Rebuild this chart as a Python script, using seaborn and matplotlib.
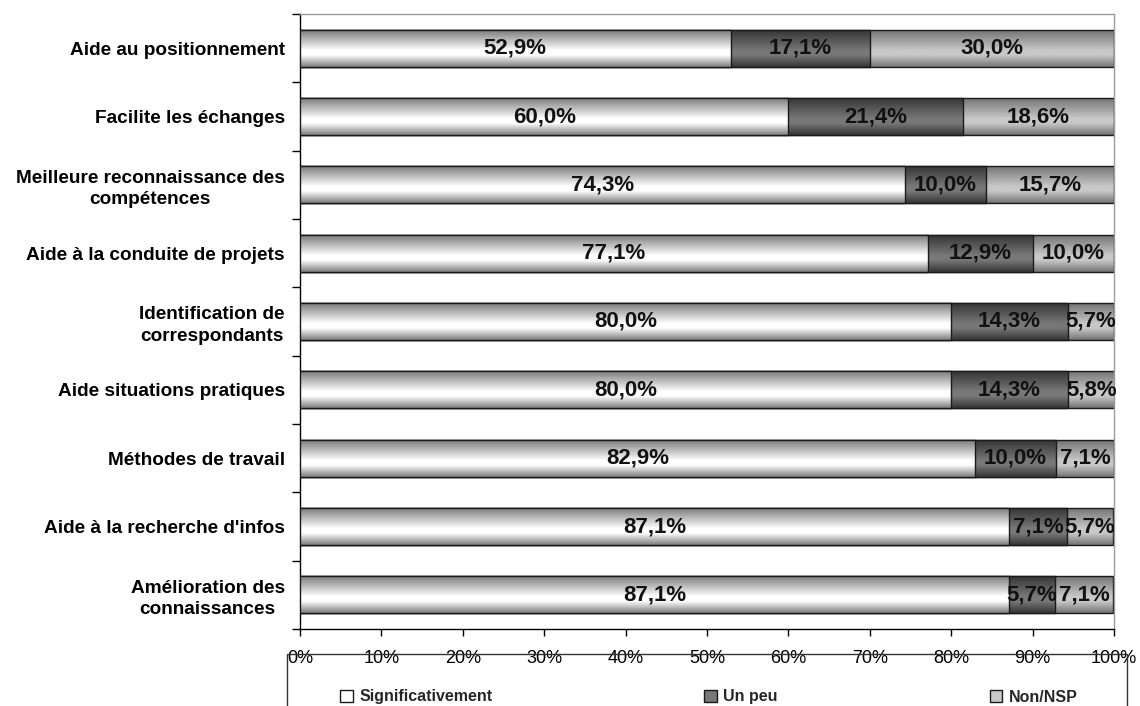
import numpy as np
import pandas as pd
import matplotlib
matplotlib.use("Agg")
import matplotlib.pyplot as plt
import seaborn as sns
from matplotlib.colors import LinearSegmentedColormap
from matplotlib.patches import Patch, Rectangle
from matplotlib.ticker import FixedLocator

# --- data -------------------------------------------------------------
categories = [
    "Aide au positionnement",
    "Facilite les échanges",
    "Meilleure reconnaissance des\ncompétences",
    "Aide à la conduite de projets",
    "Identification de\ncorrespondants",
    "Aide situations pratiques",
    "Méthodes de travail",
    "Aide à la recherche d'infos",
    "Amélioration des\nconnaissances",
]
significativement = [52.9, 60.0, 74.3, 77.1, 80.0, 80.0, 82.9, 87.1, 87.1]
un_peu = [17.1, 21.4, 10.0, 12.9, 14.3, 14.3, 10.0, 7.1, 5.7]
non_nsp = [30.0, 18.6, 15.7, 10.0, 5.7, 5.8, 7.1, 5.7, 7.1]
series_names = ["Significativement", "Un peu", "Non/NSP"]
x_ticks = list(range(0, 101, 10))
x_tick_labels = [f"{t}%" for t in x_ticks]

# (edge colour, centre colour) of each series' cylinder shading
shading = {
    "Significativement": ("#7c7c7c", "#ffffff"),
    "Un peu": ("#353535", "#787878"),
    "Non/NSP": ("#747474", "#c8c8c8"),
}

sns.set_theme(style="white")
plt.rcParams["font.family"] = ["Liberation Sans", "DejaVu Sans"]

fig = plt.figure(figsize=(11.4, 7.06), dpi=100)
ax = fig.add_axes([300 / 1140, 1 - 629 / 706, 814 / 1140, 615 / 706])

df = pd.DataFrame({
    "cat": categories,
    "Significativement": significativement,
    "Un peu": un_peu,
    "Non/NSP": non_nsp,
})
# cumulative extents: the longest bar is drawn first, shorter ones on top
df["end_sig"] = df["Significativement"]
df["end_peu"] = df["end_sig"] + df["Un peu"]
df["end_non"] = df["end_peu"] + df["Non/NSP"]

layers = [("end_non", "Non/NSP"), ("end_peu", "Un peu"), ("end_sig", "Significativement")]

grad = np.linspace(0, 1, 128).reshape(-1, 1)
n_before = 0
for z, (col, name) in enumerate(layers):
    edge, centre = shading[name]
    sns.barplot(data=df, x=col, y="cat", orient="h", ax=ax, width=0.54,
                color=centre, saturation=1, edgecolor="#1a1a1a", linewidth=1.0)
    cmap = LinearSegmentedColormap.from_list(
        name, [(0.0, edge), (0.55, centre), (0.68, centre), (1.0, edge)])
    new_patches = ax.patches[n_before:]
    n_before = len(ax.patches)
    for p in new_patches:
        x0, y0 = p.get_x(), p.get_y()
        w, h = p.get_width(), p.get_height()
        ax.imshow(grad, cmap=cmap, aspect="auto", origin="lower",
                  extent=[x0, x0 + w, y0, y0 + h], zorder=2 + z,
                  interpolation="bilinear")
        p.set_facecolor("none")
        p.set_zorder(2.5 + z)

# value labels, centred in each segment
for i in range(len(categories)):
    left = 0.0
    for name in series_names:
        v = df.loc[i, name]
        ax.text(left + v / 2, i, f"{v:.1f}".replace(".", ",") + "%",
                ha="center", va="center", fontsize=16, fontweight="bold",
                color="#111111", zorder=10)
        left += v

ax.set_xlim(0, 100)
ax.set_ylim(len(categories) - 0.5, -0.5)
ax.set_xticks(x_ticks)
ax.set_xticklabels(x_tick_labels)
ax.set_xlabel("")
ax.set_ylabel("")

for lab in ax.get_yticklabels():
    lab.set_multialignment("center")
    lab.set_linespacing(1.35)
    lab.set_fontweight("bold")
    lab.set_fontsize(13.7)
    lab.set_color("black")
for lab in ax.get_xticklabels():
    lab.set_fontsize(13)
    lab.set_color("black")

ax.yaxis.set_minor_locator(FixedLocator(np.arange(-0.5, len(categories), 1.0)))
ax.tick_params(axis="y", which="major", left=False, length=0, pad=11)
ax.tick_params(axis="y", which="minor", left=True, length=6, width=1,
               direction="out", color="black")
ax.tick_params(axis="x", which="major", bottom=True, length=5, width=1,
               direction="out", color="black", pad=10)

ax.spines["left"].set_color("black")
ax.spines["bottom"].set_color("black")
ax.spines["right"].set_color("#9a9a9a")
ax.spines["top"].set_color("#9a9a9a")
for s in ("left", "bottom", "right", "top"):
    ax.spines[s].set_linewidth(1)
ax.grid(False)

# legend in a box along the bottom edge
handles = [Patch(facecolor=shading[n][1], edgecolor="#1a1a1a", linewidth=1)
           for n in series_names]
fig.legend(handles, series_names, loc="center", ncol=3, mode="expand",
           bbox_to_anchor=(326 / 1140, 1 - 697 / 706, 766 / 1140, 0),
           frameon=False, handlelength=0.8, handleheight=0.8, handletextpad=0.4,
           prop={"weight": "bold", "size": 11.5})
fig.add_artist(Rectangle((287 / 1140, -0.1), 840 / 1140, (1 - 654 / 706) + 0.1,
                         transform=fig.transFigure, fill=False,
                         edgecolor="#333333", linewidth=1))

fig.savefig("out.png", dpi=100, facecolor="white")
